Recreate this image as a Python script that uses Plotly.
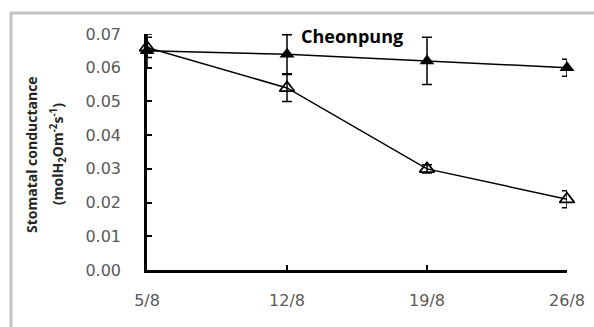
import plotly.graph_objects as go

dates = ["5/8", "12/8", "19/8", "26/8"]
filled_vals = [0.065, 0.064, 0.062, 0.060]
filled_err = [0.005, 0.0058, 0.007, 0.0025]
open_vals = [0.066, 0.054, 0.030, 0.021]
open_err = [0.003, 0.004, 0.0012, 0.0025]
y_ticks = [0.00, 0.01, 0.02, 0.03, 0.04, 0.05, 0.06, 0.07]
y_tick_text = ["0.00", "0.01", "0.02", "0.03", "0.04", "0.05", "0.06", "0.07"]

W, H = 594, 327
L, R, T, B = 147, 27, 34, 57
pw, ph = W - L - R, H - T - B


def px_x(x):
    return (x - L) / pw


def px_y(y):
    return (H - B - y) / ph


fig = go.Figure()
fig.add_trace(go.Scatter(
    x=list(range(len(dates))), y=open_vals, mode="lines+markers",
    line=dict(color="black", width=1.5),
    marker=dict(symbol="triangle-up-open", size=13, color="black", line=dict(width=1.8, color="black")),
    error_y=dict(type="data", array=open_err, visible=True, color="black", thickness=1.5, width=5),
    showlegend=False, cliponaxis=False))
fig.add_trace(go.Scatter(
    x=list(range(len(dates))), y=filled_vals, mode="lines+markers",
    line=dict(color="black", width=1.5),
    marker=dict(symbol="triangle-up", size=13, color="black"),
    error_y=dict(type="data", array=filled_err, visible=True, color="black", thickness=1.5, width=5),
    showlegend=False, cliponaxis=False))

tick_font = dict(size=16, color="#595959", family="DejaVu Sans, sans-serif")
fig.update_layout(
    width=W, height=H, margin=dict(l=L, r=R, t=T, b=B, autoexpand=False),
    paper_bgcolor="white", plot_bgcolor="white",
    font=dict(family="Open Sans, sans-serif", color="#595959", size=14),
    xaxis=dict(range=[0, 3], tickvals=list(range(len(dates))), ticktext=dates,
               showline=True, linecolor="black", linewidth=2.5, showgrid=False, zeroline=False,
               ticks="inside", ticklen=5, tickwidth=2, tickcolor="black", ticklabelstandoff=14,
               tickfont=tick_font, automargin=False),
    yaxis=dict(range=[0, 0.07], tickvals=y_ticks, ticktext=y_tick_text,
               showline=True, linecolor="black", linewidth=2.5, showgrid=False, zeroline=False,
               ticks="inside", ticklen=5, tickwidth=2, tickcolor="black", ticklabelstandoff=20,
               tickfont=tick_font, automargin=False),
)

fig.add_annotation(xref="paper", yref="paper", x=px_x(352), y=px_y(36),
                   xanchor="center", yanchor="middle",
                   text="<b>Cheonpung</b>", showarrow=False,
                   font=dict(size=18, color="black", family="Open Sans, sans-serif"))
fig.add_annotation(xref="paper", yref="paper", x=px_x(31), y=px_y(154),
                   xanchor="center", yanchor="middle",
                   text="<b>Stomatal conductance</b>", textangle=-90, showarrow=False,
                   font=dict(size=14, color="#262626", family="Open Sans, sans-serif"))
fig.add_annotation(xref="paper", yref="paper", x=px_x(58), y=px_y(154),
                   xanchor="center", yanchor="middle",
                   text="<b>(molH<sub>2</sub>Om<sup>-2</sup>s<sup>-1</sup>)</b>", textangle=-90, showarrow=False,
                   font=dict(size=14, color="#262626", family="Open Sans, sans-serif"))

fig.add_shape(type="rect", xref="paper", yref="paper",
              x0=px_x(11), x1=px_x(W + 10),
              y0=px_y(H + 10), y1=px_y(13),
              line=dict(color="#c4c4c4", width=3), fillcolor="rgba(0,0,0,0)", layer="below")

fig.write_html("out.html", config={"displayModeBar": False},
               post_script="document.body.style.margin='0';")
